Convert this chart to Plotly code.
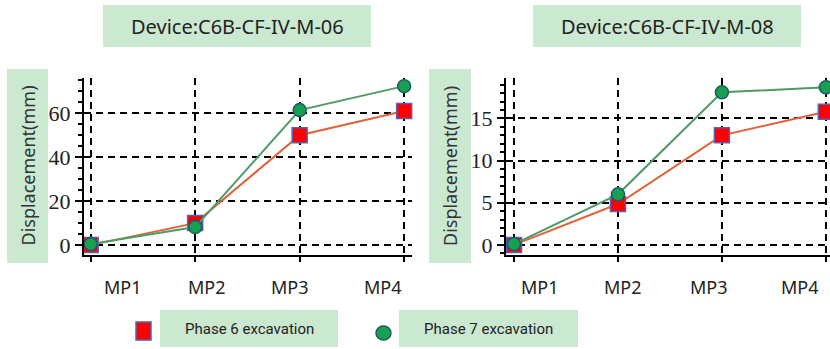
import plotly.graph_objects as go

categories = ["MP1", "MP2", "MP3", "MP4"]
devices = ["Device:C6B-CF-IV-M-06", "Device:C6B-CF-IV-M-08"]
series_names = ["Phase 6 excavation", "Phase 7 excavation"]

m06_phase6 = [0.0, 10.0, 50.0, 61.0]
m06_phase7 = [0.5, 8.2, 61.4, 72.3]
m08_phase6 = [0.0, 4.85, 13.0, 15.8]
m08_phase7 = [0.1, 6.0, 18.1, 18.7]

y_ticks_m06 = [0, 20, 40, 60]
y_ticks_m08 = [0, 5, 10, 15]

W, H = 830, 349
BOX = "#cbe8d1"
LINE6 = "#e0633a"
LINE7 = "#4f9a68"
FILL6 = "#ff0000"
EDGE6 = "#5b5fae"
FILL7 = "#17a04f"
EDGE7 = "#1f5a6a"

xs = list(range(len(categories)))

fig = go.Figure()

def add_series(xref, yref, v6, v7):
    fig.add_trace(go.Scatter(
        x=xs, y=v6, mode="lines+markers", xaxis=xref, yaxis=yref, cliponaxis=False,
        line=dict(color=LINE6, width=2),
        marker=dict(symbol="square", size=15, color=FILL6, line=dict(color=EDGE6, width=1.5)),
        showlegend=False, name=series_names[0]))
    fig.add_trace(go.Scatter(
        x=xs, y=v7, mode="lines+markers", xaxis=xref, yaxis=yref, cliponaxis=False,
        line=dict(color=LINE7, width=2),
        marker=dict(symbol="circle", size=13, color=FILL7, line=dict(color=EDGE7, width=1.5)),
        showlegend=False, name=series_names[1]))

add_series("x", "y", m06_phase6, m06_phase7)
add_series("x2", "y2", m08_phase6, m08_phase7)

def px(x):
    return x / W

def py(y):
    return 1 - y / H

ydom = [py(255), py(78)]
dash = "7px,5px"

common_x = dict(
    tickmode="array", tickvals=xs, showticklabels=False,
    showgrid=True, gridcolor="black", gridwidth=2, griddash=dash,
    showline=True, linecolor="black", linewidth=2,
    ticks="outside", ticklen=5, tickwidth=2, tickcolor="black",
    zeroline=False, layer="above traces",
)
common_y = dict(
    showgrid=True, gridcolor="black", gridwidth=2, griddash=dash,
    showline=True, linecolor="black", linewidth=2,
    ticks="outside", ticklen=7, tickwidth=2, tickcolor="black",
    zeroline=False,
    tickfont=dict(family="Liberation Serif", size=22, color="#222"),
    layer="above traces",
)

fig.update_layout(
    width=W, height=H,
    margin=dict(l=0, r=0, t=0, b=0, autoexpand=False),
    paper_bgcolor="white", plot_bgcolor="white",
    xaxis=dict(domain=[px(84), px(412)], range=[-0.064, 3.075], anchor="y", **common_x),
    yaxis=dict(domain=ydom, range=[-4.5, 76], anchor="x", tickvals=y_ticks_m06,
               minor=dict(dtick=5, ticks="outside", ticklen=4, tickwidth=1.5, tickcolor="black", showgrid=False),
               **common_y),
    xaxis2=dict(domain=[px(506), 1.0], range=[-0.077, 3.04], anchor="y2", **common_x),
    yaxis2=dict(domain=ydom, range=[-1.2, 19.8], anchor="x2", tickvals=y_ticks_m08,
                minor=dict(dtick=1, ticks="outside", ticklen=4, tickwidth=1.5, tickcolor="black", showgrid=False),
                **common_y),
)

shapes = []
annotations = []

# Title boxes
title_boxes = [(103, 371), (533, 801)]
for (x0, x1), txt in zip(title_boxes, devices):
    shapes.append(dict(type="rect", xref="paper", yref="paper", x0=px(x0), x1=px(x1),
                       y0=py(47), y1=py(5), fillcolor=BOX, line=dict(width=0), layer="below"))
    annotations.append(dict(xref="paper", yref="paper", x=px((x0 + x1) / 2), y=py(27),
                            text=txt, showarrow=False, xanchor="center", yanchor="middle",
                            font=dict(family="Noto Sans", size=20, color="#222")))

# Y-title boxes
ytitle_boxes = [(7, 48), (429, 471)]
for x0, x1 in ytitle_boxes:
    shapes.append(dict(type="rect", xref="paper", yref="paper", x0=px(x0), x1=px(x1),
                       y0=py(263), y1=py(69), fillcolor=BOX, line=dict(width=0), layer="below"))
    annotations.append(dict(xref="paper", yref="paper", x=px((x0 + x1) / 2), y=py(166),
                            text="Displacement(mm)", showarrow=False, textangle=-90,
                            xanchor="center", yanchor="middle",
                            font=dict(family="Noto Sans", size=18, color="#333")))

# Category labels (offset from grid lines as in the reference)
label_pos = {"x": [0.309, 1.113, 1.907, 2.797], "x2": [0.25, 1.048, 1.875, 2.75]}
for xref, poss in label_pos.items():
    for p, c in zip(poss, categories):
        annotations.append(dict(xref=xref, yref="paper", x=p, y=py(287), text=c,
                                showarrow=False, xanchor="center", yanchor="middle",
                                font=dict(family="Noto Sans", size=18, color="#222")))

# Legend
legend_boxes = [(160, 338), (399, 578)]
for (x0, x1), txt in zip(legend_boxes, series_names):
    shapes.append(dict(type="rect", xref="paper", yref="paper", x0=px(x0), x1=px(x1),
                       y0=py(347), y1=py(310), fillcolor=BOX, line=dict(width=0), layer="below"))
    annotations.append(dict(xref="paper", yref="paper", x=px((x0 + x1) / 2), y=py(329),
                            text=txt, showarrow=False, xanchor="center", yanchor="middle",
                            font=dict(family="Roboto", size=15, color="#222")))
shapes.append(dict(type="rect", xref="paper", yref="paper", x0=px(136), x1=px(151),
                   y0=py(340), y1=py(322), fillcolor=FILL6, line=dict(color=EDGE6, width=1.5)))
shapes.append(dict(type="circle", xref="paper", yref="paper", x0=px(376), x1=px(391),
                   y0=py(340), y1=py(326), fillcolor=FILL7, line=dict(color=EDGE7, width=1.5)))

fig.update_layout(shapes=shapes, annotations=annotations)

fig.write_html("out.html", config={"displayModeBar": False},
               post_script="document.body.style.margin='0';document.body.style.overflow='hidden';")
